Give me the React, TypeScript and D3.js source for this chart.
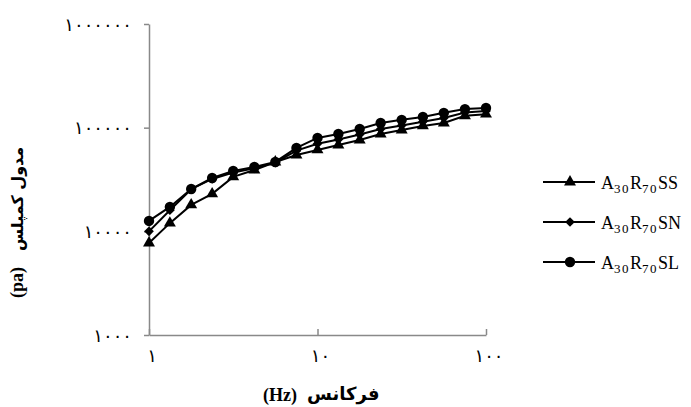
import React, { useEffect, useRef } from "react";
import * as d3 from "d3";

// frequency (Hz), 8 steps per decade
const freqs = [1, 1.33, 1.78, 2.37, 3.16, 4.22, 5.62, 7.5, 10, 13.3, 17.8, 23.7, 31.6, 42.2, 56.2, 75, 100];

const seriesSS = [7730, 12000, 18000, 23000, 33500, 39100, 46700, 54500, 61000, 68100, 76000, 86900, 95000, 104000, 111000, 130000, 135000];
const seriesSN = [10000, 16000, 25500, 32000, 37000, 40500, 46000, 60000, 70000, 77000, 86000, 97000, 105000, 114000, 124000, 140000, 145000];
const seriesSL = [12600, 17200, 25600, 32700, 38200, 41800, 46700, 63700, 79600, 86900, 97100, 111000, 119000, 127000, 139000, 151000, 155000];

const seriesNames = ["SS", "SN", "SL"];
const xTicks = [1, 10, 100];
const yTicks = [1000, 10000, 100000, 1000000];

const toPersian = (n: number) =>
  String(n).replace(/[0-9]/g, (c) => "۰۱۲۳۴۵۶۷۸۹"[+c]);

export default function App() {
  const ref = useRef<SVGSVGElement>(null);

  useEffect(() => {
    const svg = d3.select(ref.current);
    svg.selectAll("*").remove();

    const x = d3.scaleLog().domain([1, 100]).range([149, 486]);
    const y = d3.scaleLog().domain([1000, 1000000]).range([335, 24]);

    const axisColor = "#898989";
    const digitFont = "DejaVu Sans";
    const spacing = 5;

    // y axis
    const gy = svg.append("g").attr("transform", "translate(149,0)")
      .call(d3.axisLeft(y).tickValues(yTicks).tickSizeInner(5).tickSizeOuter(0).tickPadding(12)
        .tickFormat((d: any) => toPersian(d)));
    gy.selectAll("path,line").attr("stroke", axisColor).attr("stroke-width", 1.5);
    gy.selectAll("text").attr("font-family", digitFont).attr("font-size", 18)
      .attr("letter-spacing", spacing).attr("fill", "#000").attr("dy", "0.35em");

    // x axis
    const gx = svg.append("g").attr("transform", "translate(0,335)")
      .call(d3.axisBottom(x).tickValues(xTicks).tickSizeInner(-6).tickSizeOuter(0).tickPadding(14)
        .tickFormat((d: any) => toPersian(d)));
    gx.selectAll("path,line").attr("stroke", axisColor).attr("stroke-width", 1.5);
    gx.selectAll("text").attr("font-family", digitFont).attr("font-size", 18)
      .attr("letter-spacing", spacing).attr("dx", spacing / 2).attr("fill", "#000");

    const symbols = [
      d3.symbol().type(d3.symbolTriangle).size(62),
      d3.symbol().type(d3.symbolDiamond2).size(60),
      d3.symbol().type(d3.symbolCircle).size(85),
    ];
    const allSeries = [seriesSS, seriesSN, seriesSL];

    const line = d3.line<number>()
      .x((_, i) => x(freqs[i]))
      .y((d) => y(d));

    allSeries.forEach((vals, k) => {
      svg.append("path")
        .attr("d", line(vals) as string)
        .attr("fill", "none")
        .attr("stroke", "#000")
        .attr("stroke-width", 2);
      svg.selectAll(null)
        .data(vals)
        .enter()
        .append("path")
        .attr("d", symbols[k]() as string)
        .attr("transform", (d, i) => `translate(${x(freqs[i])},${y(d)})`)
        .attr("fill", "#000");
    });

    // legend
    const legend = svg.append("g");
    seriesNames.forEach((name, k) => {
      const ly = 182 + k * 40;
      legend.append("line")
        .attr("x1", 543).attr("x2", 595).attr("y1", ly).attr("y2", ly)
        .attr("stroke", "#000").attr("stroke-width", 2);
      legend.append("path")
        .attr("d", symbols[k]() as string)
        .attr("transform", `translate(570,${ly})`)
        .attr("fill", "#000");
      const t = legend.append("text")
        .attr("x", 601).attr("y", ly + 7)
        .attr("font-family", "Liberation Serif")
        .attr("font-size", 18)
        .attr("fill", "#000");
      t.append("tspan").text("A");
      t.append("tspan").attr("font-size", 13).attr("dy", 4).attr("letter-spacing", 1.5).text("30");
      t.append("tspan").attr("dy", -4).text("R");
      t.append("tspan").attr("font-size", 13).attr("dy", 4).attr("letter-spacing", 1.5).text("70");
      t.append("tspan").attr("dy", -4).text(name);
    });

    // x title
    svg.append("text")
      .attr("x", 297).attr("y", 401)
      .attr("text-anchor", "end")
      .attr("font-family", "Liberation Serif").attr("font-weight", "bold").attr("font-size", 18)
      .text("(Hz)");
    svg.append("text")
      .attr("x", 307).attr("y", 400)
      .attr("text-anchor", "start")
      .attr("font-family", "DejaVu Sans").attr("font-weight", "bold").attr("font-size", 18)
      .text("فرکانس");

    // y title
    const gt = svg.append("g").attr("transform", "translate(23,0) rotate(-90)");
    gt.append("text")
      .attr("x", -298).attr("y", 0)
      .attr("text-anchor", "start")
      .attr("font-family", "Liberation Serif").attr("font-weight", "bold").attr("font-size", 18)
      .text("(pa)");
    gt.append("text")
      .attr("x", -251).attr("y", 0)
      .attr("text-anchor", "start")
      .attr("font-family", "DejaVu Sans").attr("font-weight", "bold").attr("font-size", 16)
      .text("مدول کمپلس");
  }, []);

  return (
    <svg
      ref={ref}
      width={691}
      height={407}
      style={{ position: "absolute", left: 0, top: 0, background: "#fff" }}
    />
  );
}
